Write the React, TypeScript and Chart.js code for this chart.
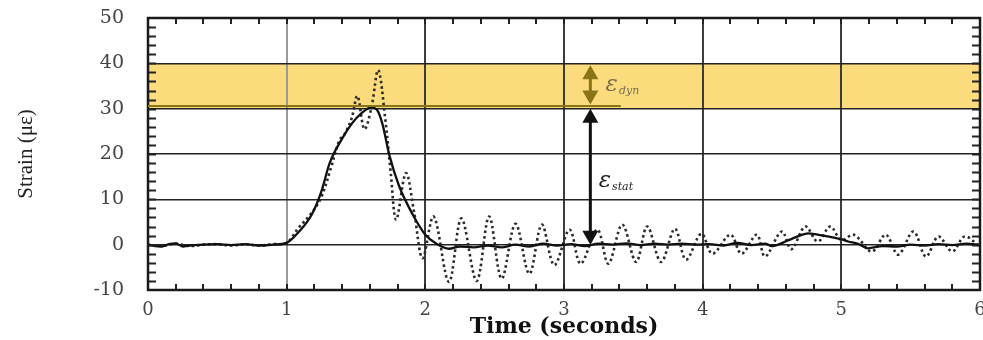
import { useEffect, useRef } from "react";
import { Chart, registerables } from "chart.js";

Chart.register(...registerables);

// ---- data ----
const staticTime = [
  0, 0.05, 0.1, 0.15, 0.2, 0.25, 0.3, 0.4, 0.5, 0.6, 0.7, 0.8, 0.9, 1.0,
  1.09, 1.18, 1.25, 1.31, 1.4, 1.47, 1.54, 1.61, 1.65, 1.69, 1.74, 1.81, 1.91, 2.0,
  2.08, 2.17, 2.25, 2.35, 2.45, 2.55, 2.65, 2.75, 2.85, 2.95, 3.05, 3.15, 3.25,
  3.35, 3.45, 3.55, 3.65, 3.75, 3.85, 3.95, 4.05, 4.15, 4.25, 4.35, 4.45, 4.5, 4.62,
  4.7, 4.76, 4.83, 4.91, 5.0, 5.05, 5.12, 5.19, 5.3, 5.4, 5.5, 5.6, 5.7, 5.8, 5.9, 6.0,
];
const staticStrain = [
  0, -0.3, -0.4, 0.1, 0.3, -0.4, -0.2, 0, 0.1, -0.1, 0.1, -0.2, 0, 0.4,
  2.9, 6.6, 11.7, 18, 23.4, 26.7, 29, 30.3, 29.8, 26.7, 19.8, 13, 6.6, 2.2,
  0.2, -0.9, -0.4, -0.6, -0.2, -0.6, 0, -0.4, 0.2, -0.2, 0.1, -0.3, 0.2,
  0, 0.3, -0.1, 0.2, 0, 0.2, 0, 0.1, -0.2, 0.4, -0.1, 0.2, -0.3, 1,
  2, 2.5, 2.2, 1.8, 1.2, 0.7, 0.2, -0.8, -0.3, -0.4, 0, -0.2, 0.1, -0.1, 0.2, 0,
];
const dynamicTime = [
  0, 0.1, 0.2, 0.3, 0.4, 0.5, 0.6, 0.7, 0.8, 0.9, 1.0, 1.08, 1.18, 1.25, 1.32, 1.38,
  1.42, 1.47, 1.51, 1.56, 1.61, 1.66, 1.71, 1.75, 1.79, 1.86, 1.92, 1.98,
  2.06, 2.17, 2.26, 2.37, 2.46, 2.55, 2.65, 2.75, 2.84, 2.93, 3.04, 3.12, 3.24, 3.32,
  3.42, 3.52, 3.6, 3.7, 3.8, 3.88, 3.99, 4.07, 4.2, 4.28, 4.39, 4.45, 4.57, 4.64,
  4.74, 4.83, 4.92, 5.0, 5.09, 5.22, 5.32, 5.41, 5.52, 5.61, 5.7, 5.8, 5.89, 6.0,
];
const dynamicStrain = [
  0, -0.3, 0.2, -0.3, 0, 0.1, -0.2, 0.1, -0.2, 0.1, 0.4, 3.5, 7, 10.5, 17, 23,
  24.5, 28, 32.8, 25.5, 30, 38.5, 28, 16, 5.5, 15.8, 7, -3,
  6.2, -8.2, 5.8, -8, 6.2, -7.5, 4.6, -6.4, 4.4, -4.5, 3.3, -4.2, 3.3, -4.2,
  4.4, -3.8, 4, -3.8, 3.5, -3.3, 2.4, -2, 2.2, -2, 2.2, -2.6, 2.9, -1,
  4, 0.7, 4, 1, 2.2, -1.5, 2.2, -2.2, 2.9, -2.6, 1.8, -1.5, 1.8, -0.5,
];
const xTickValues = [0, 1, 2, 3, 4, 5, 6];
const yTickValues = [-10, 0, 10, 20, 30, 40, 50];
const dynamicBand = [30, 40];
const peakStaticLevel = 30.6;
const peakLineEnd = 3.41;
const arrowTime = 3.19;
const dynArrowRange = [40, 30.9];
const statArrowRange = [30.0, 0];
const dynLabelPos = [3.3, 35.2];
const statLabelPos = [3.25, 14];

const SERIF = '"DejaVu Serif", "Liberation Serif", serif';
const BAND_COLOR = "#fcdb7d";
const OLIVE = "#8a7418";

function arrowHead(ctx: CanvasRenderingContext2D, x: number, tip: number, dir: number, color: string) {
  const w = 8, h = 14;
  ctx.fillStyle = color;
  ctx.beginPath();
  ctx.moveTo(x, tip);
  ctx.lineTo(x - w, tip + dir * h);
  ctx.lineTo(x + w, tip + dir * h);
  ctx.closePath();
  ctx.fill();
}

const bandPlugin = {
  id: "band",
  beforeDraw(chart: any) {
    const { ctx, chartArea, scales } = chart;
    const y = scales.y;
    const top = y.getPixelForValue(dynamicBand[1]);
    const bot = y.getPixelForValue(dynamicBand[0]);
    ctx.save();
    ctx.fillStyle = BAND_COLOR;
    ctx.fillRect(chartArea.left, top, chartArea.right - chartArea.left, bot - top);
    ctx.restore();
  },
};

const framePlugin = {
  id: "frame",
  afterDatasetsDraw(chart: any) {
    const { ctx, chartArea, scales } = chart;
    const { x, y } = scales;
    const { left, right, top, bottom } = chartArea;
    ctx.save();
    // minor ticks
    ctx.strokeStyle = "#222";
    ctx.lineWidth = 2;
    ctx.beginPath();
    for (let t = 0.2; t < 6; t += 0.2) {
      const px = Math.round(x.getPixelForValue(t));
      ctx.moveTo(px, bottom);
      ctx.lineTo(px, bottom - 6);
      ctx.moveTo(px, top);
      ctx.lineTo(px, top + 6);
    }
    for (let v = -8; v < 50; v += 2) {
      const py = Math.round(y.getPixelForValue(v)) + 0.5;
      ctx.moveTo(left, py);
      ctx.lineTo(left + 8, py);
      ctx.moveTo(right, py);
      ctx.lineTo(right - 8, py);
    }
    ctx.stroke();
    // frame
    ctx.lineWidth = 2.5;
    ctx.strokeStyle = "#1a1a1a";
    ctx.strokeRect(left, top, right - left, bottom - top);

    // peak level line
    const py = y.getPixelForValue(peakStaticLevel);
    ctx.strokeStyle = OLIVE;
    ctx.lineWidth = 2;
    ctx.beginPath();
    ctx.moveTo(left, py);
    ctx.lineTo(x.getPixelForValue(peakLineEnd), py);
    ctx.stroke();

    // arrows
    const ax = x.getPixelForValue(arrowTime);
    const d1 = y.getPixelForValue(dynArrowRange[0]);
    const d2 = y.getPixelForValue(dynArrowRange[1]);
    ctx.strokeStyle = OLIVE;
    ctx.lineWidth = 3;
    ctx.beginPath();
    ctx.moveTo(ax, d1 + 10);
    ctx.lineTo(ax, d2 - 10);
    ctx.stroke();
    arrowHead(ctx, ax, d1 + 2, 1, OLIVE);
    arrowHead(ctx, ax, d2, -1, OLIVE);

    const s1 = y.getPixelForValue(statArrowRange[0]);
    const s2 = y.getPixelForValue(statArrowRange[1]);
    ctx.strokeStyle = "#111";
    ctx.beginPath();
    ctx.moveTo(ax, s1 + 10);
    ctx.lineTo(ax, s2 - 10);
    ctx.stroke();
    arrowHead(ctx, ax, s1, 1, "#111");
    arrowHead(ctx, ax, s2, -1, "#111");

    // labels
    const drawEps = (pos: number[], sub: string, color: string) => {
      const lx = x.getPixelForValue(pos[0]);
      const ly = y.getPixelForValue(pos[1]);
      ctx.fillStyle = color;
      ctx.textBaseline = "middle";
      ctx.textAlign = "left";
      ctx.font = `italic 23px ${SERIF}`;
      ctx.fillText("ε", lx, ly);
      const w = ctx.measureText("ε").width;
      ctx.font = `italic 11px ${SERIF}`;
      ctx.fillText(sub, lx + w + 1, ly + 6);
    };
    drawEps(dynLabelPos, "dyn", "#7a7050");
    drawEps(statLabelPos, "stat", "#222");
    ctx.restore();
  },
};

export default function App() {
  const ref = useRef<HTMLCanvasElement | null>(null);
  useEffect(() => {
    const canvas = ref.current;
    if (!canvas) return;
    const chart = new Chart(canvas, {
      type: "line",
      data: {
        datasets: [
          {
            label: "static",
            data: staticTime.map((t, i) => ({ x: t, y: staticStrain[i] })),
            borderColor: "#111",
            borderWidth: 2.3,
            pointRadius: 0,
            cubicInterpolationMode: "monotone",
            fill: false,
          },
          {
            label: "dynamic",
            data: dynamicTime.map((t, i) => ({ x: t, y: dynamicStrain[i] })),
            borderColor: "#2a2a2a",
            borderWidth: 2.6,
            borderDash: [2.5, 3],
            pointRadius: 0,
            tension: 0.35,
            fill: false,
          },
        ],
      },
      options: {
        animation: false,
        responsive: false,
        devicePixelRatio: 1,
        layout: { padding: { left: 0, top: 18, right: 20, bottom: 0 } },
        plugins: { legend: { display: false }, tooltip: { enabled: false } },
        scales: {
          x: {
            type: "linear",
            min: 0,
            max: 6,
            afterBuildTicks: (s: any) => {
              s.ticks = xTickValues.map((v) => ({ value: v }));
            },
            afterFit: (s: any) => {
              s.height = 50;
            },
            grid: {
              drawTicks: false,
              color: (c: any) => (c.tick && c.tick.value === 1 ? "#9a9a9a" : "#3c3c3c"),
              lineWidth: 2,
            },
            border: { display: false },
            ticks: {
              padding: 10,
              color: "#444",
              font: { family: SERIF, size: 18 },
              callback: (v: any) => String(v),
            },
            title: {
              display: true,
              text: "Time (seconds)",
              color: "#111",
              font: { family: SERIF, size: 22, weight: "bold" },
              padding: { top: 0, bottom: 0 },
            },
          },
          y: {
            min: -10,
            max: 50,
            afterBuildTicks: (s: any) => {
              s.ticks = yTickValues.map((v) => ({ value: v }));
            },
            afterFit: (s: any) => {
              s.width = 148;
              s.paddingTop = 0;
              s.paddingBottom = 0;
            },
            grid: { drawTicks: false, color: "#222", lineWidth: 1.6 },
            border: { display: false },
            ticks: {
              padding: 24,
              color: "#444",
              font: { family: SERIF, size: 19 },
              callback: (v: any) => String(v),
            },
            title: {
              display: true,
              text: "Strain (με)",
              color: "#222",
              font: { family: '"Liberation Serif", serif', size: 21 },
              padding: { top: 14, bottom: 0 },
            },
          },
        },
      },
      plugins: [bandPlugin, framePlugin],
    } as any);
    return () => chart.destroy();
  }, []);
  return (
    <div style={{ position: "fixed", left: 0, top: 0, width: 983, height: 340, overflow: "hidden", background: "#fff" }}>
      <canvas ref={ref} width={1000} height={340} style={{ width: 1000, height: 340, display: "block" }} />
    </div>
  );
}
